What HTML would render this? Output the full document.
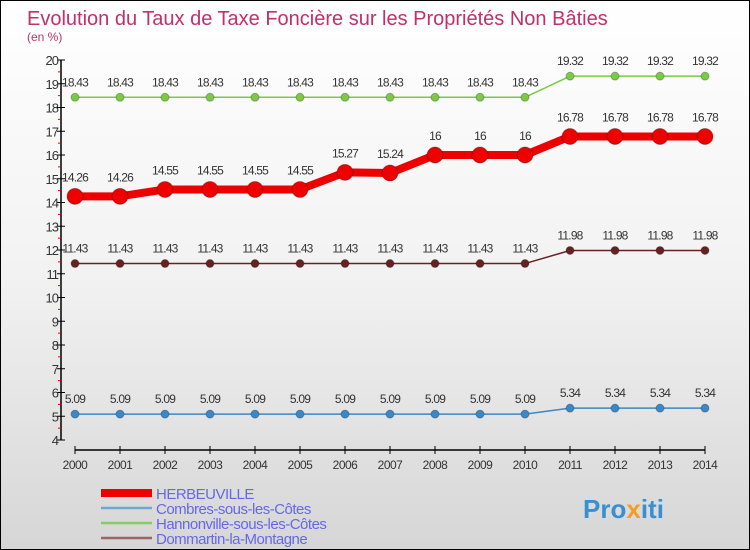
<!DOCTYPE html>
<html><head><meta charset="utf-8"><style>
body{margin:0}
#c{width:748px;height:548px;border:1px solid #000;background:linear-gradient(#ffffff,#f2f2f2 50%,#d6d6d6);position:relative;font-family:"Liberation Sans",sans-serif}
</style></head><body>
<div id="c">
<svg id="s" width="748" height="548" style="position:absolute;left:0;top:0">
<text x="26" y="24" font-size="20" fill="#c0306a">Evolution du Taux de Taxe Foncière sur les Propriétés Non Bâties</text>
<text x="26" y="40" font-size="12" fill="#c0306a">(en %)</text>
<g id="axes"></g><g id="series"></g><g id="legend"></g>
<text x="582" y="517" font-size="26" font-weight="bold" fill="#3a8fd0">Pro<tspan fill="#f0a020">x</tspan>iti</text>
</svg>
</div>
<script>
const years=[2000,2001,2002,2003,2004,2005,2006,2007,2008,2009,2010,2011,2012,2013,2014];
const herbeuville=[14.26,14.26,14.55,14.55,14.55,14.55,15.27,15.24,16,16,16,16.78,16.78,16.78,16.78];
const combres=[5.09,5.09,5.09,5.09,5.09,5.09,5.09,5.09,5.09,5.09,5.09,5.34,5.34,5.34,5.34];
const hannonville=[18.43,18.43,18.43,18.43,18.43,18.43,18.43,18.43,18.43,18.43,18.43,19.32,19.32,19.32,19.32];
const dommartin=[11.43,11.43,11.43,11.43,11.43,11.43,11.43,11.43,11.43,11.43,11.43,11.98,11.98,11.98,11.98];
const yTicks=[4,5,6,7,8,9,10,11,12,13,14,15,16,17,18,19,20];
const NS='http://www.w3.org/2000/svg';
const X=i=>74+i*45, Y=v=>59+(20-v)*23.75;
function mk(p,t,a){const e=document.createElementNS(NS,t);for(const k in a)e.setAttribute(k,a[k]);p.appendChild(e);return e;}
const ax=document.getElementById('axes');
let e=mk(ax,'line',{x1:60,y1:Y(20),x2:60,y2:Y(4),stroke:'#000','stroke-width':1.5});


e=mk(ax,'line',{x1:X(0),y1:449,x2:X(14),y2:449,stroke:'#000','stroke-width':1.5});


yTicks.forEach(v=>{
 mk(ax,'line',{x1:56,y1:Y(v),x2:64,y2:Y(v),stroke:'#000'});
 if(v<20)mk(ax,'line',{x1:57,y1:Y(v+0.5),x2:60,y2:Y(v+0.5),stroke:'#e00'});
 const t=mk(ax,'text',{x:57,y:Y(v)+5,'font-size':13,fill:'#333','text-anchor':'end','letter-spacing':'-1'});t.textContent=v;
 
 
});
years.forEach((yr,i)=>{
 mk(ax,'line',{x1:X(i),y1:445,x2:X(i),y2:453,stroke:'#000'});
 const t=mk(ax,'text',{x:X(i),y:468,'font-size':12,fill:'#333','text-anchor':'middle','letter-spacing':'-0.5'});t.textContent=yr;
 
 
});
const sg=document.getElementById('series');
function series(vals,color,w,r,name){
 const g=mk(sg,'g',{});
 
 
 mk(g,'polyline',{points:vals.map((v,i)=>X(i)+','+Y(v)).join(' '),fill:'none',stroke:color,'stroke-width':w,'stroke-linejoin':'round'});
 vals.forEach((v,i)=>{
  const c=mk(g,'circle',{cx:X(i),cy:Y(v),r:r,fill:color,stroke:'rgba(0,0,0,0.25)'});
  
  
  const t=mk(g,'text',{x:X(i),y:Y(v)-(r+7),'font-size':12,fill:'#333','text-anchor':'middle','letter-spacing':'-0.8'});t.textContent=v;
  
  
 });
}
series(hannonville,'#77cc44',1.5,4,'hannonville-series');
series(dommartin,'#662222',1.5,4,'dommartin-series');
series(combres,'#3a88c8',1.5,4,'combres-series');
series(herbeuville,'#ee0000',8,8,'herbeuville-series');
const lg=document.getElementById('legend');
[['HERBEUVILLE','#ee0000',8],['Combres-sous-les-Côtes','#6fa8cc',2.5],['Hannonville-sous-les-Côtes','#88cc66',2.5],['Dommartin-la-Montagne','#996666',2.5]].forEach((d,i)=>{
 const y=492+i*15;
 const g=mk(lg,'g',{});
 
 
 mk(g,'line',{x1:100,y1:y,x2:151,y2:y,stroke:d[1],'stroke-width':d[2]});
 const t=mk(g,'text',{x:155,y:y+6,'font-size':15,fill:'#6666ee','letter-spacing':'-0.5'});t.textContent=d[0];
});
</script>
</body></html>
